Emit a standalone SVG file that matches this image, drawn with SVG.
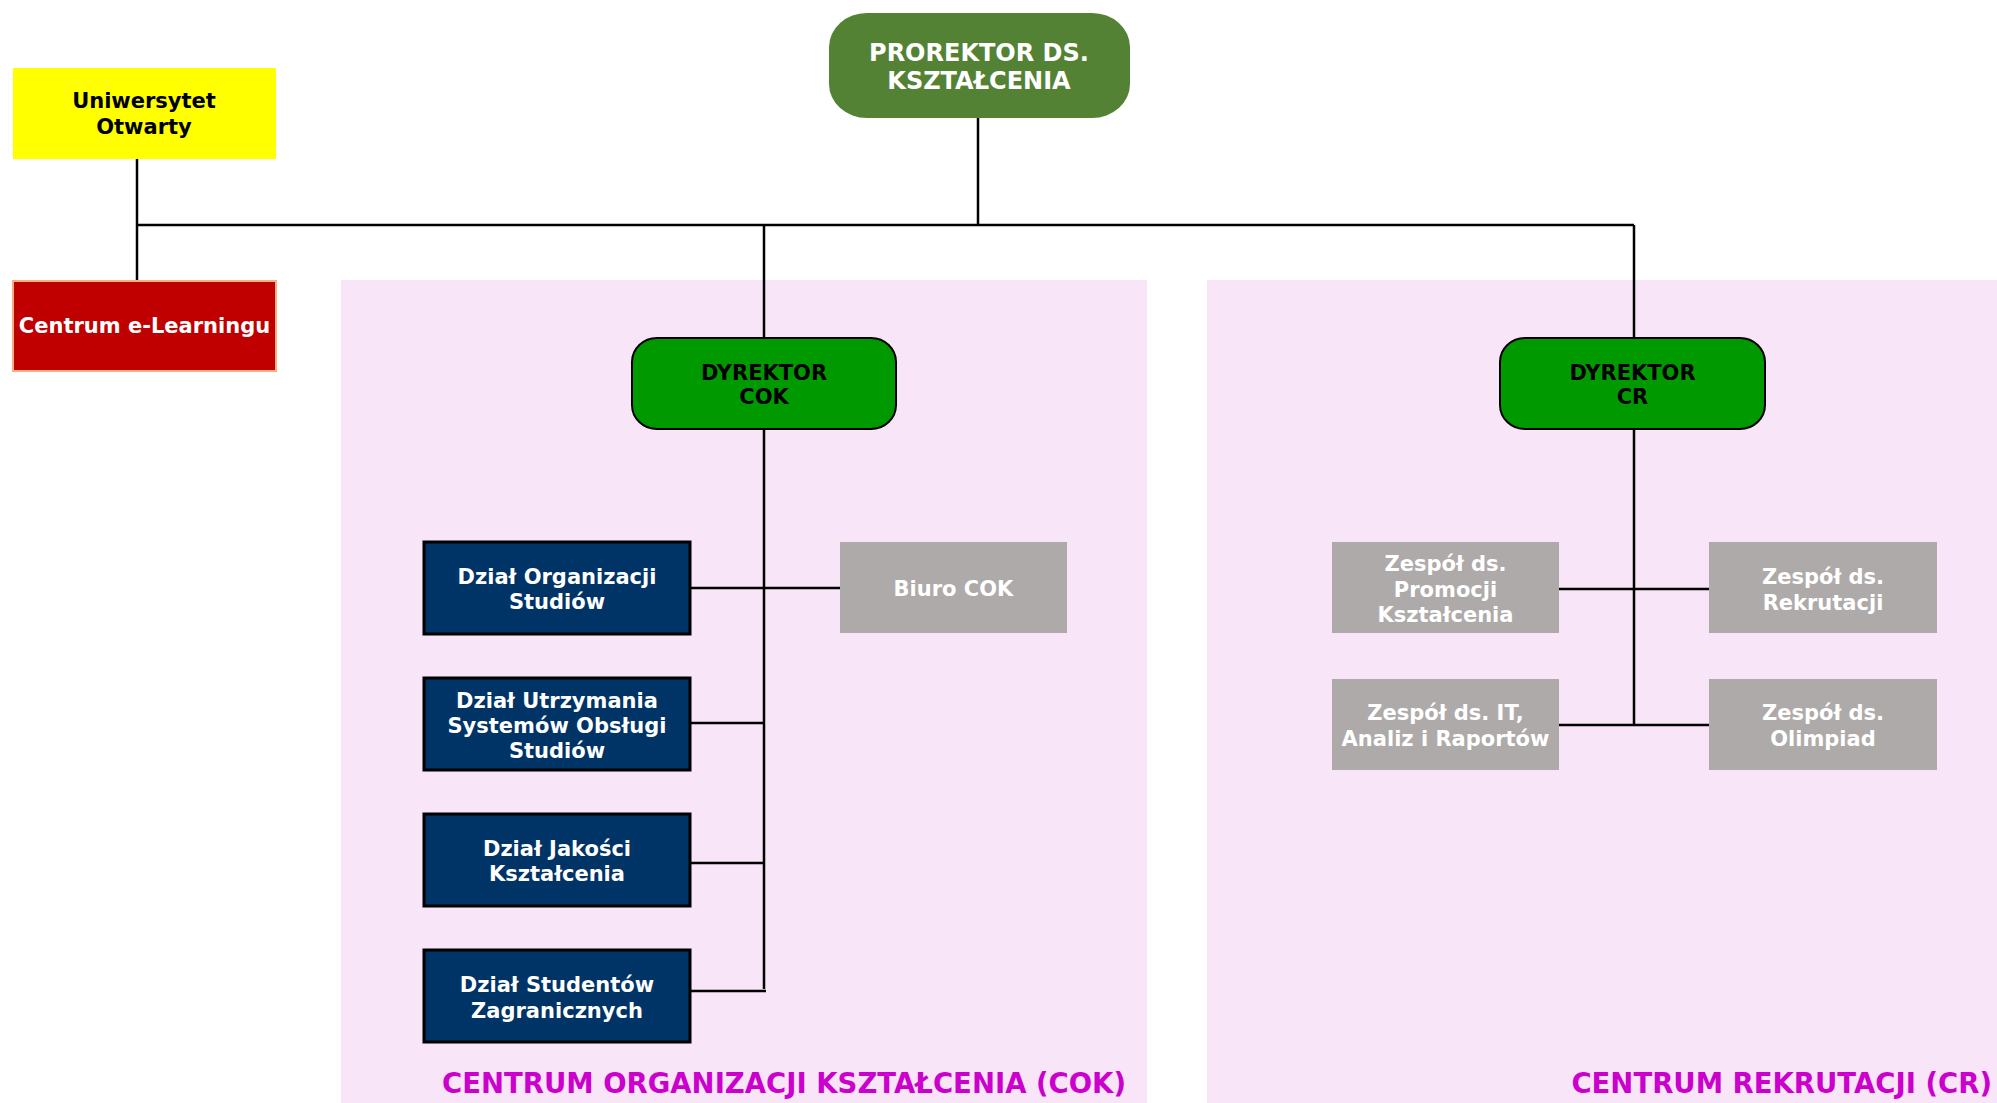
<svg xmlns="http://www.w3.org/2000/svg" width="1997" height="1103" viewBox="0 0 1997 1103">
<style>
text{font-family:"DejaVu Sans","Verdana",sans-serif;font-weight:bold;text-anchor:middle}
.t21{font-size:21px}
.w{fill:#ffffff}
.k{fill:#000000}
.title{font-size:27.5px;fill:#CC00CC;text-anchor:end}
.ln{stroke:#000;stroke-width:2.5;fill:none}
.dz{fill:#003366;stroke:#000;stroke-width:3}
.gr{fill:#AEAAAA}
.dy{fill:#009900;stroke:#000;stroke-width:2}
</style>
<rect width="1997" height="1103" fill="#ffffff"/>
<g id="regions">
<rect x="341" y="280" width="806" height="823" fill="#F8E5F8"/>
<rect x="1207" y="280" width="790" height="823" fill="#F8E5F8"/>
<text class="title" x="1126" y="1093">CENTRUM ORGANIZACJI KSZTAŁCENIA (COK)</text>
<text class="title" x="1992" y="1093">CENTRUM REKRUTACJI (CR)</text>
</g>
<g id="connectors">
<path class="ln" d="M137 159V280"/>
<path class="ln" d="M137 225H1634" stroke-width="3"/>
<path class="ln" d="M978 118V225"/>
<path class="ln" d="M764 225V338"/>
<path class="ln" d="M1634 225V338"/>
<path class="ln" d="M764 429V989"/>
<path class="ln" d="M690 588H840"/>
<path class="ln" d="M690 723H764"/>
<path class="ln" d="M690 863H764"/>
<path class="ln" d="M690 991H766"/>
<path class="ln" d="M1634 429V725"/>
<path class="ln" d="M1559 589H1709"/>
<path class="ln" d="M1559 725H1709"/>
</g>
<g id="prorektor">
<rect x="829" y="13" width="301" height="105" rx="38" ry="34" fill="#548235"/>
<text class="w" font-size="24" x="979" y="61">PROREKTOR DS.</text>
<text class="w" font-size="24" x="979" y="89">KSZTAŁCENIA</text>
</g>
<g id="uniwersytet">
<rect x="13" y="68" width="263" height="91" fill="#FFFF00"/>
<text class="t21 k" x="144" y="108">Uniwersytet</text>
<text class="t21 k" x="144" y="134">Otwarty</text>
</g>
<g id="elearning">
<rect x="13" y="281" width="263" height="90" fill="#C00000" stroke="#F4B183" stroke-width="2"/>
<text class="t21 w" x="144.5" y="333">Centrum e-Learningu</text>
</g>
<g id="dyrektor-cok">
<rect class="dy" x="632" y="338" width="264" height="91" rx="25" ry="24"/>
<text class="t21 k" x="764" y="379.5">DYREKTOR</text>
<text class="t21 k" x="764" y="404">COK</text>
</g>
<g id="dyrektor-cr">
<rect class="dy" x="1500" y="338" width="265" height="91" rx="25" ry="24"/>
<text class="t21 k" x="1632.5" y="379.5">DYREKTOR</text>
<text class="t21 k" x="1632.5" y="404">CR</text>
</g>
<g id="dzial-organizacji">
<rect class="dz" x="424" y="542" width="266" height="92"/>
<text class="t21 w" x="557" y="584">Dział Organizacji</text>
<text class="t21 w" x="557" y="608.5">Studiów</text>
</g>
<g id="dzial-utrzymania">
<rect class="dz" x="424" y="678" width="266" height="92"/>
<text class="t21 w" x="557" y="707.5">Dział Utrzymania</text>
<text class="t21 w" x="557" y="732.5">Systemów Obsługi</text>
<text class="t21 w" x="557" y="757.5">Studiów</text>
</g>
<g id="dzial-jakosci">
<rect class="dz" x="424" y="814" width="266" height="92"/>
<text class="t21 w" x="557" y="855.5">Dział Jakości</text>
<text class="t21 w" x="557" y="880.5">Kształcenia</text>
</g>
<g id="dzial-studentow">
<rect class="dz" x="424" y="950" width="266" height="92"/>
<text class="t21 w" x="557" y="992">Dział Studentów</text>
<text class="t21 w" x="557" y="1017.5">Zagranicznych</text>
</g>
<g id="biuro-cok">
<rect class="gr" x="840" y="542" width="227" height="91"/>
<text class="t21 w" x="953.5" y="596">Biuro COK</text>
</g>
<g id="zespol-promocji">
<rect class="gr" x="1332" y="542" width="227" height="91"/>
<text class="t21 w" x="1445.5" y="571">Zespół ds.</text>
<text class="t21 w" x="1445.5" y="596.5">Promocji</text>
<text class="t21 w" x="1445.5" y="622">Kształcenia</text>
</g>
<g id="zespol-rekrutacji">
<rect class="gr" x="1709" y="542" width="228" height="91"/>
<text class="t21 w" x="1823" y="583.5">Zespół ds.</text>
<text class="t21 w" x="1823" y="609.5">Rekrutacji</text>
</g>
<g id="zespol-it">
<rect class="gr" x="1332" y="679" width="227" height="91"/>
<text class="t21 w" x="1445.5" y="720">Zespół ds. IT,</text>
<text class="t21 w" x="1445.5" y="745.5">Analiz i Raportów</text>
</g>
<g id="zespol-olimpiad">
<rect class="gr" x="1709" y="679" width="228" height="91"/>
<text class="t21 w" x="1823" y="720">Zespół ds.</text>
<text class="t21 w" x="1823" y="745.5">Olimpiad</text>
</g>
</svg>
